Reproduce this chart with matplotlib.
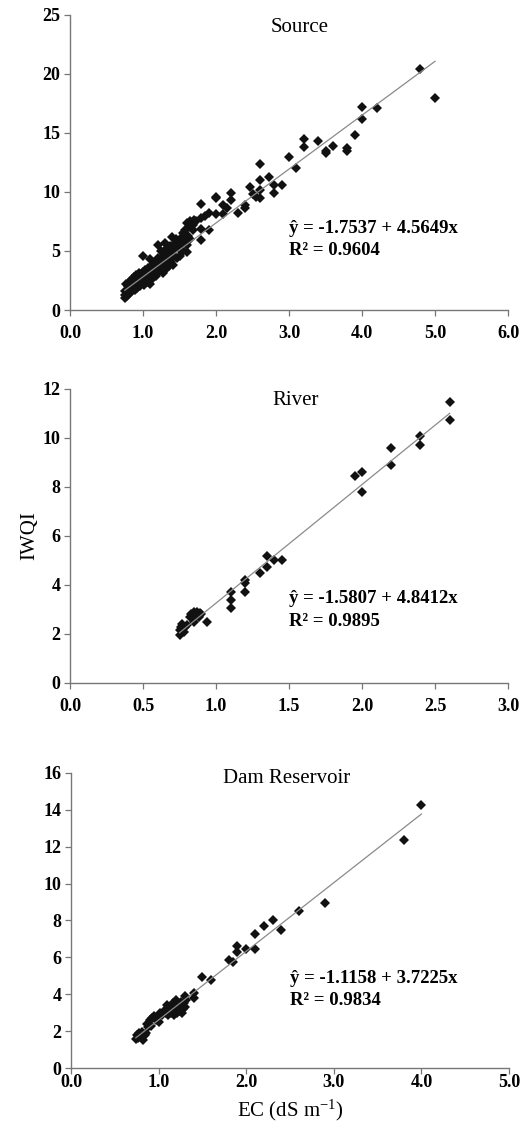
import numpy as np
import matplotlib
matplotlib.use("Agg")
import matplotlib.pyplot as plt

plt.rcParams['font.family'] = ['Liberation Serif', 'DejaVu Serif']
plt.rcParams['mathtext.fontset'] = 'custom'
plt.rcParams['mathtext.rm'] = 'Liberation Serif'
plt.rcParams['mathtext.it'] = 'Liberation Serif:italic'

# Source (EC, IWQI)
source_ec = [0.75, 0.75, 0.76, 0.77, 0.78, 0.79, 0.80, 0.80, 0.81, 0.82, 0.83, 0.84, 0.85, 0.85,
             0.86, 0.87, 0.88, 0.88, 0.89, 0.90, 0.90, 0.91, 0.92, 0.93, 0.94, 0.95, 0.95, 0.96,
             0.97, 0.98, 0.99, 1.00, 1.00, 1.00, 1.01, 1.02, 1.03, 1.04, 1.05, 1.06, 1.07, 1.08,
             1.09, 1.10, 1.10, 1.11, 1.12, 1.13, 1.14, 1.15, 1.16, 1.17, 1.18, 1.19, 1.20, 1.20,
             1.21, 1.22, 1.23, 1.24, 1.25, 1.25, 1.26, 1.27, 1.28, 1.29, 1.30, 1.30, 1.31, 1.32,
             1.33, 1.34, 1.35, 1.36, 1.37, 1.38, 1.40, 1.40, 1.41, 1.42, 1.43, 1.45, 1.45, 1.46,
             1.48, 1.50, 1.50, 1.52, 1.53, 1.55, 1.55, 1.57, 1.58, 1.60, 1.60, 1.60, 1.62, 1.63,
             1.65, 1.65, 1.68, 1.70, 1.69, 1.72, 1.80, 1.80, 1.80, 1.80, 1.85, 1.90, 1.90, 2.00,
             2.00, 2.00, 2.10, 2.10, 2.15, 2.20, 2.20, 2.30, 2.40, 2.40, 2.46, 2.50, 2.55, 2.60,
             2.60, 2.60, 2.60, 2.72, 2.80, 2.80, 2.90, 3.00, 3.10, 3.20, 3.20, 3.40, 3.50, 3.50,
             3.60, 3.80, 3.80, 3.90, 4.00, 4.00, 4.20, 4.80, 5.00]
source_iwqi = [1.0, 1.3, 1.6, 2.2, 1.2, 1.8, 1.5, 2.0, 2.4, 1.4, 1.9, 2.2, 1.6, 2.6,
               2.0, 1.8, 2.3, 2.8, 1.7, 2.1, 2.5, 3.0, 1.9, 2.4, 2.7, 2.2, 3.1, 2.0,
               2.6, 2.9, 2.3, 4.6, 2.5, 3.2, 2.8, 2.1, 3.4, 2.6, 3.0, 2.4, 3.6, 2.9,
               3.3, 2.2, 4.3, 3.1, 3.8, 2.7, 3.5, 3.0, 4.0, 3.3, 2.9, 3.7, 5.5, 3.2,
               4.4, 3.6, 4.1, 3.4, 5.0, 3.8, 4.3, 3.1, 4.6, 3.9, 5.7, 4.2, 3.5, 5.2,
               4.0, 4.8, 3.7, 4.5, 5.4, 4.1, 6.2, 5.0, 3.8, 5.6, 4.6, 6.0, 5.3, 4.4,
               5.8, 5.1, 4.6, 6.1, 5.5, 6.5, 5.0, 5.9, 6.8, 7.4, 5.5, 4.9, 6.3, 7.0,
               7.5, 6.0, 7.2, 7.6, 6.8, 7.5, 9.0, 7.8, 6.9, 5.9, 8.0, 8.2, 6.8, 9.6,
               9.5, 8.1, 8.9, 8.1, 8.6, 9.9, 9.3, 8.2, 8.9, 8.6, 10.4, 9.8, 9.6, 12.4,
               11.0, 10.2, 9.5, 11.3, 10.6, 9.9, 10.6, 13.0, 12.0, 14.5, 13.8, 14.3, 13.5, 13.3,
               13.9, 13.7, 13.5, 14.8, 17.2, 16.2, 17.1, 20.4, 18.0]

# River
river_ec = [0.75, 0.75, 0.76, 0.77, 0.78, 0.79, 0.80, 0.82, 0.83, 0.84, 0.85, 0.85, 0.86,
            0.87, 0.88, 0.89, 0.90, 0.94, 1.10, 1.10, 1.10, 1.20, 1.20, 1.20, 1.30, 1.35,
            1.35, 1.40, 1.45, 1.95, 2.00, 2.00, 2.20, 2.20, 2.40, 2.40, 2.60, 2.60]
river_iwqi = [1.95, 2.15, 2.3, 2.4, 2.1, 2.3, 2.35, 2.7, 2.8, 2.6, 2.5, 2.9, 2.75,
              2.9, 2.7, 2.85, 2.8, 2.5, 3.7, 3.4, 3.05, 4.2, 4.1, 3.7, 4.5, 5.2,
              4.75, 5.0, 5.0, 8.45, 8.6, 7.8, 9.6, 8.9, 10.1, 9.7, 11.45, 10.75]

# Dam Reservoir
dam_ec = [0.74, 0.75, 0.76, 0.78, 0.80, 0.81, 0.82, 0.84, 0.86, 0.87, 0.88, 0.90, 0.91,
          0.93, 0.95, 0.97, 1.00, 1.00, 1.02, 1.04, 1.06, 1.08, 1.10, 1.10, 1.11, 1.13,
          1.14, 1.15, 1.16, 1.17, 1.18, 1.19, 1.20, 1.20, 1.21, 1.22, 1.23, 1.24, 1.25,
          1.26, 1.27, 1.28, 1.29, 1.30, 1.30, 1.31, 1.40, 1.40, 1.50, 1.60, 1.80, 1.85,
          1.90, 1.90, 2.00, 2.10, 2.10, 2.20, 2.30, 2.40, 2.60, 2.90, 3.80, 4.00]
dam_iwqi = [1.55, 1.8, 1.65, 1.9, 1.7, 1.95, 1.5, 1.8, 1.9, 2.4, 2.2, 2.6, 2.3,
            2.7, 2.8, 2.6, 2.5, 2.9, 3.0, 2.9, 3.1, 3.0, 3.4, 3.2, 2.9, 3.3,
            3.0, 3.2, 3.5, 3.1, 2.9, 3.4, 3.7, 3.2, 3.0, 3.5, 3.3, 3.1, 3.6,
            3.4, 3.0, 3.2, 3.5, 3.9, 3.3, 3.7, 4.05, 3.8, 4.95, 4.75, 5.85, 5.75,
            6.6, 6.3, 6.45, 7.27, 6.45, 7.7, 8.05, 7.5, 8.5, 8.97, 12.36, 14.26]

titles = ["Source", "River", "Dam Reservoir"]
intercepts = [-1.7537, -1.5807, -1.1158]
slopes = [4.5649, 4.8412, 3.7225]
r2s = [0.9604, 0.9895, 0.9834]
x_maxes = [6.0, 3.0, 5.0]
y_maxes = [25, 12, 16]
x_steps = [1.0, 0.5, 1.0]
y_steps = [5, 2, 2]

data = [(source_ec, source_iwqi), (river_ec, river_iwqi), (dam_ec, dam_iwqi)]

fig = plt.figure(figsize=(5.24, 11.22), dpi=100)
positions = [[0.1336, 0.7237, 0.836, 0.263],
             [0.1336, 0.3913, 0.836, 0.262],
             [0.1355, 0.0481, 0.836, 0.263]]
title_pos = [(0.525, 0.958), (0.514, 0.962), (0.493, 0.98)]
eq_pos = [(0.50, 0.239), (0.50, 0.247), (0.50, 0.266)]
x_pads = [7, 7, 0.5]

for i in range(3):
    ax = fig.add_axes(positions[i])
    x = np.array(data[i][0])
    y = np.array(data[i][1])
    ax.plot(x, y, 'D', color='#111111', markersize=4.6, markeredgewidth=0)
    xl = np.array([x.min(), x.max()])
    ax.plot(xl, intercepts[i] + slopes[i] * xl, color='#8a8a8a', lw=0.9)

    ax.set_xlim(0, x_maxes[i])
    ax.set_ylim(0, y_maxes[i])
    ax.set_xticks(np.arange(0, x_maxes[i] + 0.01, x_steps[i]))
    ax.set_yticks(np.arange(0, y_maxes[i] + 0.01, y_steps[i]))
    ax.set_xticklabels(['%.1f' % t for t in ax.get_xticks()])
    for s in ['top', 'right']:
        ax.spines[s].set_visible(False)
    for s in ['left', 'bottom']:
        ax.spines[s].set_color('#777777')
        ax.spines[s].set_linewidth(1.0)
    ax.tick_params(direction='out', length=4, width=0.9, color='#777777',
                   labelsize=13)
    ax.tick_params(axis='x', pad=x_pads[i])
    ax.tick_params(axis='y', pad=3)
    for lab in ax.get_xticklabels() + ax.get_yticklabels():
        lab.set_fontweight('bold')

    ax.text(title_pos[i][0], title_pos[i][1], titles[i], transform=ax.transAxes,
            ha='center', va='center', fontsize=15)
    eq = '\u0177 = %.4f + %.4fx\nR\u00b2 = %.4f' % (intercepts[i], slopes[i], r2s[i])
    ax.text(eq_pos[i][0], eq_pos[i][1], eq, transform=ax.transAxes, ha='left',
            va='center', fontsize=13.5, fontweight='bold', linespacing=1.45)

    if i == 1:
        ax.set_ylabel('IWQI', fontsize=15, labelpad=2)
    if i == 2:
        ax.set_xlabel('EC (dS m$^{-1}$)', fontsize=15, labelpad=5)

fig.savefig('out.png', dpi=100)
